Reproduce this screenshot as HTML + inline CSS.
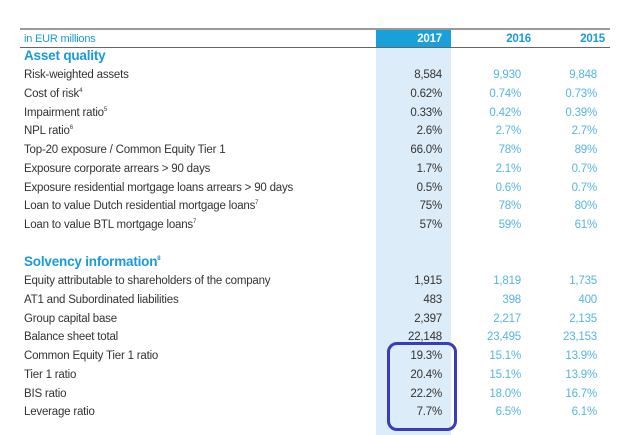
<!DOCTYPE html>
<html><head><meta charset="utf-8"><style>
body{margin:0;width:640px;height:435px;background:#fff;position:relative;overflow:hidden;font-family:"Liberation Sans",sans-serif;}
.t{position:absolute;font-size:11.5px;line-height:14px;white-space:nowrap;color:#333;letter-spacing:-0.2px}
.r{text-align:right;width:80px}
.c16,.c15{color:#55b5e0}
.h{color:#1a9ad6;font-weight:bold;font-size:13.5px}
sup{font-size:6px;vertical-align:top;line-height:8px}
</style></head><body>
<div style="position:absolute;left:376px;top:30px;width:75px;height:405px;background:#dcecf8"></div>
<div style="position:absolute;left:376px;top:30px;width:75px;height:17px;background:#1aa0d8"></div>
<div style="position:absolute;left:20px;top:28px;width:590px;height:2px;background:#999"></div>
<div style="position:absolute;left:20px;top:47px;width:590px;height:1px;background:#666"></div>
<div class="t" style="left:24px;top:32px;color:#1a9ad6;font-size:11px">in EUR millions</div>
<div class="t r" style="left:362px;top:32px;color:#fff;font-weight:bold">2017</div>
<div class="t r" style="left:451px;top:32px;color:#1a9ad6;font-weight:bold">2016</div>
<div class="t r" style="left:525px;top:32px;color:#1a9ad6;font-weight:bold">2015</div>
<div class="t h" style="left:24px;top:49px">Asset quality</div>
<div class="t h" style="left:24px;top:255px">Solvency information<sup>8</sup></div>
<div id="rows"></div>
<div style="position:absolute;left:387px;top:342px;width:64px;height:83px;border:3px solid #3a3cbb;border-radius:10px"></div>
<script>
const labels=["Risk-weighted assets","Cost of risk<sup>4</sup>","Impairment ratio<sup>5</sup>","NPL ratio<sup>6</sup>","Top-20 exposure / Common Equity Tier 1","Exposure corporate arrears &gt; 90 days","Exposure residential mortgage loans arrears &gt; 90 days","Loan to value Dutch residential mortgage loans<sup>7</sup>","Loan to value BTL mortgage loans<sup>7</sup>","Equity attributable to shareholders of the company","AT1 and Subordinated liabilities","Group capital base","Balance sheet total","Common Equity Tier 1 ratio","Tier 1 ratio","BIS ratio","Leverage ratio"];
const v2017=["8,584","0.62%","0.33%","2.6%","66.0%","1.7%","0.5%","75%","57%","1,915","483","2,397","22,148","19.3%","20.4%","22.2%","7.7%"];
const v2016=["9,930","0.74%","0.42%","2.7%","78%","2.1%","0.6%","78%","59%","1,819","398","2,217","23,495","15.1%","15.1%","18.0%","6.5%"];
const v2015=["9,848","0.73%","0.39%","2.7%","89%","0.7%","0.7%","80%","61%","1,735","400","2,135","23,153","13.9%","13.9%","16.7%","6.1%"];
const box=document.getElementById('rows');
labels.forEach((l,i)=>{
  const y=(i<9?68+i*18.75:274+(i-9)*18.75);
  const cells=[[l,24,'',false],[v2017[i],362,'',true],[v2016[i],441,'c16',true],[v2015[i],517,'c15',true]];
  cells.forEach((c,j)=>{
    const d=document.createElement('div');
    d.className='t '+(c[3]?'r ':'')+c[2];
    d.style.left=c[1]+'px';d.style.top=y+'px';
    d.innerHTML=c[0];
    
    
    box.appendChild(d);
  });
});
</script>
</body></html>
